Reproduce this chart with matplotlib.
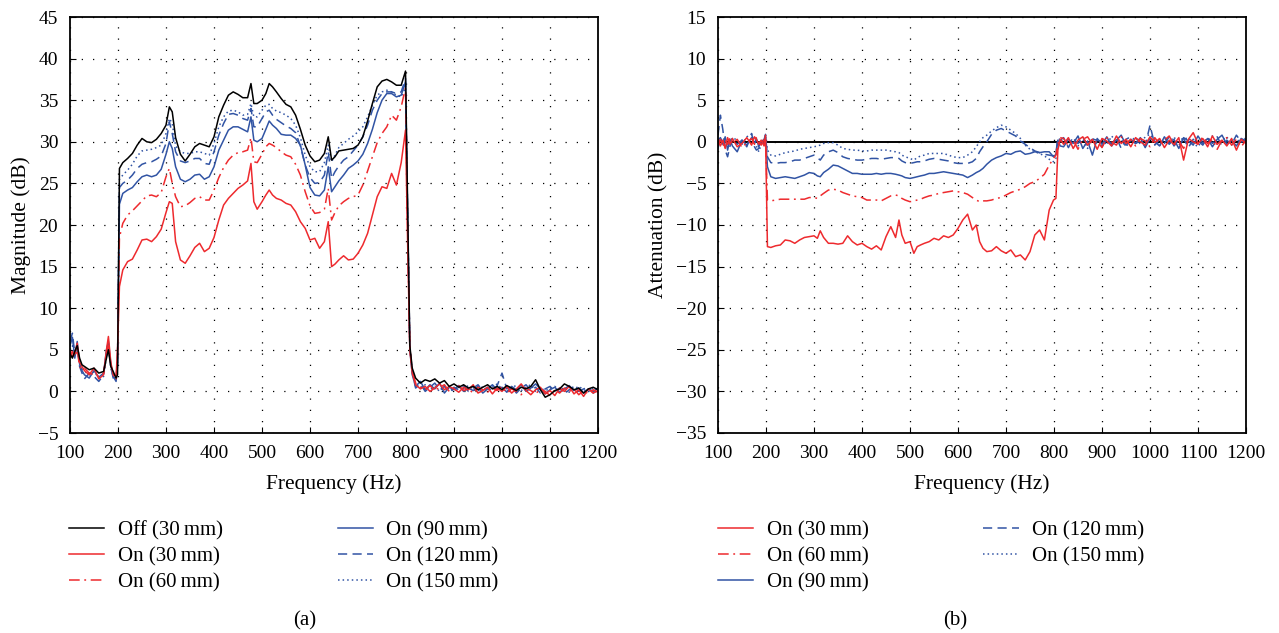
import matplotlib.pyplot as plt
from matplotlib.lines import Line2D

plt.rcParams['font.family'] = ['Liberation Serif', 'DejaVu Serif']
plt.rcParams['font.size'] = 15
plt.rcParams['axes.unicode_minus'] = True

RED = '#ee2a2e'
BLUE = '#3154a4'
BLACK = '#000000'

# frequency grid shared by every curve (Hz)
FREQ = [100, 105, 110, 115, 120, 125, 130, 140, 150, 160, 170, 176, 180, 185, 190, 196, 199,
        203, 210, 220, 230, 240, 250, 260, 270, 280, 290,
        300, 307, 313, 320, 330, 340, 350, 360, 370, 380,
        390, 400, 410, 420, 430, 440, 450, 460, 470, 477,
        483, 490, 500, 508, 515, 522, 530, 540, 550, 560,
        570, 580, 590, 600, 610, 620, 630, 638, 645, 652,
        660, 670, 680, 690, 700, 710, 720, 730, 740, 750,
        760, 770, 780, 790, 799,
        804, 808, 813,
        820, 830, 840, 850, 860, 870, 880, 890, 900, 910,
        920, 930, 940, 950, 960, 970, 980, 990, 1000, 1010,
        1020, 1030, 1040, 1050, 1060, 1070, 1080, 1090, 1100, 1110,
        1120, 1130, 1140, 1150, 1160, 1170, 1180, 1190, 1200]

# ---- panel (a): magnitude (dB) ----
OFF_30 = [4.5, 4.0, 4.8, 5.5, 4.0, 3.2, 3.0, 2.6, 2.8, 2.2, 2.4, 4.0, 5.0, 3.0, 2.4, 1.6, 2.0,
          26.8, 27.5, 28.0, 28.6, 29.6, 30.4, 30.0, 29.9, 30.3, 31.0,
          32.0, 34.2, 33.6, 30.5, 28.5, 27.7, 28.5, 29.4, 29.8, 29.6,
          29.4, 30.6, 33.0, 34.4, 35.6, 36.0, 35.7, 35.3, 35.3, 37.0,
          34.6, 34.6, 35.0, 35.8, 37.0, 36.6, 36.0, 35.2, 34.5, 34.2,
          33.2, 31.5, 29.6, 28.3, 27.6, 27.8, 28.6, 30.6, 27.8, 28.2,
          28.9, 29.0, 29.1, 29.2, 29.6, 30.6, 32.5, 34.6, 36.6, 37.3,
          37.5, 37.2, 36.8, 36.8, 38.5,
          20.0, 5.5, 2.8,
          1.6, 1.0, 1.4, 1.2, 1.5, 1.0, 1.3, 0.6, 0.9, 0.5,
          0.8, 0.4, 0.6, 0.2, 0.5, 0.8, 0.3, 0.6, 0.2, 0.7,
          0.4, 0.1, 0.5, 0.3, 0.6, 1.4, 0.2, -0.7, -0.4, 0.1,
          0.3, 0.9, 0.6, 0.2, 0.4, -0.2, 0.3, 0.5, 0.2]

ON_30 = [5.0, 4.2, 4.5, 5.8, 3.5, 3.0, 2.5, 2.0, 2.8, 1.5, 2.0, 5.0, 6.6, 3.5, 2.0, 1.8, 5.0,
         12.6, 14.6, 15.6, 15.9, 17.0, 18.2, 18.3, 18.0, 18.6, 19.5,
         21.5, 22.8, 22.6, 18.0, 15.8, 15.4, 16.3, 17.3, 17.8, 16.8,
         17.2, 18.5, 20.6, 22.4, 23.2, 23.8, 24.4, 24.8, 25.3, 27.4,
         22.8, 21.9, 22.8, 23.6, 24.2, 23.6, 23.2, 23.0, 22.6, 22.4,
         21.6, 20.4, 19.6, 18.2, 18.4, 17.2, 18.0, 20.4, 15.0, 15.3,
         15.8, 16.3, 15.8, 15.9, 16.6, 17.6, 19.0, 21.2, 23.4, 24.6,
         24.4, 26.2, 24.8, 27.5, 31.4,
         16.0, 5.0, 2.2,
         0.8, 0.3, 0.6, 0.0, 0.4, 0.9, 0.2, 0.6, 0.3, -0.1,
         0.5, 0.2, 0.8, -0.2, 0.1, 0.5, -0.3, 0.4, 0.0, 0.6,
         -0.2, 0.3, 0.9, 0.1, -0.4, 0.2, 0.5, -0.3, 0.1, -0.5,
         0.4, 0.0, 0.6, -0.3, 0.2, -0.6, 0.3, -0.2, 0.1]

ON_60 = [4.0, 4.8, 4.2, 5.0, 3.0, 2.6, 2.8, 2.2, 2.0, 1.8, 2.2, 4.5, 5.5, 3.2, 2.0, 1.4, 4.0,
         18.5, 20.2, 21.2, 21.7, 22.3, 22.9, 23.5, 23.6, 23.4, 23.9,
         25.8, 26.8, 25.0, 23.4, 22.2, 22.3, 22.7, 23.2, 23.4, 23.0,
         23.0, 24.2, 25.7, 26.9, 27.8, 28.4, 28.7, 28.8, 29.0, 30.5,
         27.6, 27.5, 28.5, 29.4, 29.8, 29.6, 29.3, 28.8, 28.4, 28.2,
         27.3, 26.0, 24.0, 22.3, 21.4, 21.5, 21.9, 24.4, 20.6, 21.5,
         22.3, 22.8, 23.2, 23.4, 23.6, 24.8, 26.5, 28.2, 29.9, 31.0,
         31.8, 33.2, 32.6, 34.2, 36.5,
         18.0, 5.2, 2.5,
         1.0, 0.5, 0.2, 0.7, 0.1, 0.5, 0.8, 0.0, 0.4, 0.7,
         0.1, 0.3, -0.2, 0.5, 0.2, -0.1, 0.4, 0.1, 0.6, -0.2,
         0.3, 0.0, -0.4, 0.4, 0.1, -0.3, 0.3, 0.0, -0.5, 0.2,
         -0.2, 0.4, 0.0, 0.3, -0.4, 0.1, -0.3, 0.2, -0.1]

ON_90 = [5.5, 6.5, 4.0, 6.0, 3.3, 2.5, 2.0, 1.6, 2.5, 1.7, 2.2, 5.0, 6.0, 3.3, 1.8, 1.2, 3.0,
         22.5, 23.8, 24.2, 24.5, 25.2, 25.8, 26.0, 25.8, 26.0, 26.7,
         28.5, 30.0, 29.2, 27.0, 25.5, 25.2, 25.5, 26.0, 26.1, 25.5,
         25.8, 27.0, 29.0, 30.2, 31.4, 31.8, 31.8, 31.5, 31.2, 33.0,
         30.2, 30.0, 30.4, 31.5, 32.5, 32.0, 31.6, 30.9, 30.8, 30.8,
         30.4, 29.6, 27.2, 24.5, 23.6, 23.5, 24.2, 27.0, 24.0, 24.6,
         25.3, 26.0, 26.8, 27.2, 27.7, 28.5, 29.8, 31.5, 33.5, 35.0,
         35.8, 35.8, 35.4, 35.6, 37.2,
         19.0, 5.0, 2.0,
         0.6, 1.2, 0.2, 0.8, 0.3, 1.0, -0.2, 0.5, 0.2, 0.7,
         0.0, 0.4, 0.1, 0.6, -0.2, 0.3, 0.8, 0.2, 0.5, -0.1,
         0.6, 0.2, 0.8, 0.0, 0.4, 0.9, 0.3, -0.3, 0.2, 0.5,
         -0.1, 0.3, 0.7, 0.1, 0.4, -0.2, 0.3, 0.0, 0.4]

ON_120 = [6.0, 7.0, 4.5, 5.5, 3.0, 2.2, 1.5, 2.2, 1.8, 1.2, 2.0, 4.6, 5.8, 3.0, 1.6, 1.4, 3.5,
          24.5, 25.0, 25.4, 26.0, 26.8, 27.3, 27.5, 27.6, 27.9, 28.3,
          29.8, 32.4, 31.0, 28.8, 27.7, 27.5, 27.7, 28.0, 28.0, 27.4,
          27.3, 28.8, 30.8, 32.2, 33.3, 33.4, 33.2, 32.8, 32.6, 34.0,
          31.8, 31.8, 32.8, 33.6, 33.8, 33.2, 32.7, 32.3, 31.9, 31.6,
          31.1, 29.5, 27.2, 25.7, 25.0, 25.1, 26.0, 28.8, 25.6, 26.4,
          27.1, 27.8, 28.2, 28.9, 29.6, 30.6, 32.0, 33.8, 35.0, 35.8,
          36.0, 36.0, 35.8, 36.0, 37.6,
          19.0, 5.3, 2.4,
          0.4, 0.9, 0.0, 0.5, 1.0, 0.2, 0.6, -0.1, 0.5, 0.2,
          0.7, 0.0, 0.4, 0.8, 0.1, 0.5, 0.0, 0.7, 2.2, 0.3,
          0.6, -0.2, 0.4, 0.8, 0.1, 0.5, -0.2, 0.3, 0.6, 0.0,
          0.4, -0.3, 0.2, 0.6, 0.0, 0.3, 0.5, -0.2, 0.2]

ON_150 = [5.0, 5.5, 4.2, 5.2, 3.4, 2.8, 2.4, 2.0, 2.4, 1.6, 1.8, 4.2, 5.2, 2.8, 1.8, 1.5, 3.5,
          25.5, 26.0, 26.6, 27.3, 28.3, 28.9, 29.0, 29.1, 29.3, 29.6,
          31.0, 32.8, 32.2, 29.5, 28.8, 28.6, 28.6, 28.8, 28.8, 28.6,
          28.4, 29.8, 31.8, 33.0, 33.7, 33.8, 33.6, 33.2, 33.3, 34.6,
          33.0, 33.0, 33.8, 34.4, 34.5, 34.0, 33.7, 33.5, 33.2, 32.8,
          32.0, 30.5, 28.4, 27.0, 26.4, 26.4, 27.5, 29.6, 27.6, 28.4,
          29.3, 29.8, 30.3, 30.7, 31.2, 31.8, 33.0, 34.4, 35.6, 36.0,
          36.2, 36.0, 35.6, 35.4, 36.5,
          19.0, 5.2, 2.6,
          0.9, 0.4, 0.8, 0.2, 0.6, 0.0, 0.7, 0.3, 0.0, 0.5,
          0.3, 0.7, 0.2, 0.0, 0.6, 0.1, 0.5, 0.9, 0.3, 0.0,
          0.5, 0.7, 0.1, 0.5, 0.8, 0.0, 0.4, 0.1, 0.3, 0.6,
          0.1, 0.5, -0.1, 0.3, 0.6, 0.2, 0.0, 0.4, 0.3]

# ---- panel (b): attenuation (dB) ----
ATT_30 = [0.3, -0.5, 0.2, -0.8, 0.5, -0.3, 0.4, -0.6, -0.2, 0.5, -0.4, 0.6, 0.3, -0.3, 0.2, -0.5, 0.8,
          -12.6, -12.7, -12.5, -12.4, -11.8, -11.9, -12.2, -11.8, -11.5, -11.4,
          -11.3, -11.6, -10.7, -11.5, -12.2, -12.2, -12.3, -12.2, -11.3, -12.0,
          -12.4, -12.2, -12.6, -12.9, -12.5, -13.0, -11.4, -10.2, -11.5, -9.4,
          -11.2, -12.2, -12.0, -13.4, -12.6, -12.4, -12.2, -12.0, -11.6, -11.8,
          -11.3, -11.5, -11.2, -10.4, -9.4, -8.7, -10.6, -10.0, -12.0, -12.8,
          -13.2, -13.1, -12.6, -13.1, -13.4, -13.0, -13.8, -13.6, -14.2, -13.2,
          -11.2, -10.6, -11.8, -8.2, -7.0,
          -6.8, -1.0, 0.3,
          -0.3, 0.5, -0.8, 0.2, 0.6, -0.4, 0.3, -0.9, 0.4, 0.1,
          -0.5, 0.7, -0.2, 0.3, -0.6, 0.5, 0.0, -0.4, 0.6, -0.1,
          0.4, -0.7, 0.2, -0.3, 0.5, -2.2, 0.3, 1.1, -0.2, 0.4,
          -0.6, 0.7, -0.3, 0.2, -0.5, 0.4, -1.0, 0.3, -0.2]

ATT_60 = [-0.4, 0.3, -0.6, 0.2, -0.3, 0.5, -0.2, 0.3, -0.7, -0.1, 0.4, -0.3, 0.5, 0.0, -0.4, 0.3, 0.5,
          -7.0, -7.1, -7.0, -6.9, -6.9, -6.9, -6.9, -6.9, -6.9, -6.7,
          -6.7, -6.8, -6.5, -6.2, -5.8, -5.7, -5.8, -6.1, -6.3, -6.5,
          -6.6, -6.7, -7.0, -7.0, -7.0, -7.1, -6.8, -6.5, -6.4, -6.5,
          -6.8, -7.0, -7.2, -7.1, -7.0, -6.9, -6.7, -6.5, -6.4, -6.2,
          -6.1, -6.0, -5.9, -6.0, -6.1, -6.3, -6.7, -7.0, -7.2, -7.1,
          -7.1, -7.0, -6.8, -6.7, -6.4, -6.1, -5.9, -5.7, -5.4, -5.0,
          -4.8, -4.4, -3.9, -2.8, -2.0,
          -1.6, -0.3, 0.5,
          0.4, -0.5, 0.2, -0.9, 0.3, 0.6, -0.3, 0.1, -0.7, 0.5,
          0.0, -0.4, 0.6, -0.2, 0.3, -0.5, 0.4, 0.1, -0.6, 0.5,
          -0.3, 0.2, 0.7, -0.4, 0.1, -0.8, 0.4, 0.0, -0.3, 0.6,
          -0.2, 0.3, -0.9, 0.2, 0.5, -0.4, 0.3, -0.6, 0.2]

ATT_90 = [-0.8, 0.5, -0.2, 0.6, -1.0, 0.3, -0.5, -1.2, 0.2, -0.4, 0.5, -0.2, 0.4, -0.6, 0.1, -0.3, 0.9,
          -3.0, -4.2, -4.4, -4.3, -4.2, -4.3, -4.4, -4.2, -4.0, -3.7,
          -3.8, -4.1, -4.2, -3.7, -3.3, -2.8, -2.9, -3.2, -3.5, -3.8,
          -3.8, -3.9, -3.9, -3.9, -3.8, -3.9, -3.8, -3.8, -3.9, -4.0,
          -4.1, -4.3, -4.4, -4.3, -4.2, -4.1, -4.0, -3.8, -3.8, -3.7,
          -3.6, -3.7, -3.8, -3.9, -4.0, -4.3, -4.0, -3.7, -3.5, -3.2,
          -2.7, -2.2, -1.9, -1.7, -1.4, -1.5, -1.2, -1.1, -1.5, -1.4,
          -1.2, -1.3, -1.2, -1.2, -1.8,
          -1.5, 0.2, -0.5,
          -0.6, 0.3, -0.2, 0.7, -0.8, 0.1, -1.6, 0.4, -0.3, 0.6,
          -0.5, 0.2, 0.8, -0.4, 0.3, -0.2, 0.5, -0.7, 0.4, 0.0,
          -0.5, 0.6, -0.3, 0.3, -0.8, 0.5, 0.1, -0.4, 0.7, -0.2,
          0.4, -0.6, 0.3, 0.8, -0.3, 0.2, -0.5, 0.4, 0.1]

ATT_120 = [0.8, 3.2, 1.5, -1.0, -1.8, -0.5, 0.4, -0.3, 0.2, -0.6, 1.0, -0.6, -1.0, -0.8, 0.0, 0.3, 0.8,
           -1.8, -2.5, -2.6, -2.5, -2.5, -2.4, -2.2, -2.2, -2.0, -1.8,
           -1.6, -1.9, -2.2, -1.6, -1.2, -1.0, -1.3, -1.8, -2.0, -2.1,
           -2.2, -2.2, -2.1, -2.0, -2.0, -2.1, -2.0, -1.9, -1.9, -2.0,
           -2.3, -2.5, -2.6, -2.5, -2.4, -2.4, -2.3, -2.1, -2.0, -2.1,
           -2.2, -2.3, -2.5, -2.6, -2.6, -2.6, -2.4, -2.0, -1.2, -0.6,
           0.0, 0.9, 1.4, 1.6, 1.3, 1.0, 0.7, 0.1, -0.3, -0.7,
           -1.1, -1.3, -1.5, -1.6, -1.7,
           -1.4, 0.5, 0.2,
           0.5, -0.7, 0.4, -0.2, 0.6, -0.5, 0.3, 0.2, -0.6, 0.4,
           -0.3, 0.5, -0.8, 0.3, 0.6, -0.2, 0.1, -0.5, 2.0, -0.4,
           0.3, -0.2, 0.6, -0.5, 0.2, 0.4, -0.7, 0.3, 0.1, -0.4,
           0.5, -0.2, 0.6, -0.5, 0.2, -0.3, 0.8, 0.0, 0.3]

ATT_150 = [-0.2, 0.6, -0.5, 0.3, 0.0, -0.4, 0.5, 0.2, -0.3, 0.6, 0.9, 0.2, -0.5, -1.2, -0.3, 0.2, 0.6,
           -1.0, -1.6, -1.7, -1.5, -1.3, -1.2, -1.1, -0.9, -0.8, -0.7,
           -0.6, -0.5, -0.4, -0.2, -0.1, -0.1, -0.4, -0.8, -0.9, -1.0,
           -1.0, -1.1, -1.1, -1.0, -1.0, -1.0, -1.0, -1.1, -1.2, -1.3,
           -1.6, -1.8, -2.0, -2.2, -1.9, -1.7, -1.6, -1.4, -1.4, -1.4,
           -1.4, -1.6, -1.8, -1.9, -1.9, -1.6, -1.2, -0.6, 0.0, 0.5,
           0.8, 1.3, 1.7, 2.0, 1.8, 1.4, 1.0, 0.4, -0.4, -0.9,
           -1.2, -1.4, -1.7, -2.1, -2.4,
           -2.0, -0.6, 0.4,
           -0.2, 0.4, 0.1, -0.5, 0.3, -0.8, 0.5, -0.2, 0.4, -0.4,
           0.7, 0.0, 0.3, -0.6, 0.2, 0.5, -0.3, 0.6, 0.9, 0.2,
           -0.5, 0.4, -0.1, 0.6, -0.4, 0.3, 0.5, -0.2, -0.6, 0.3,
           0.1, 0.7, -0.3, 0.2, 0.6, -0.4, 0.3, -0.1, 0.5]

LABELS_A = ['Off (30\u2009mm)', 'On (30\u2009mm)', 'On (60\u2009mm)',
            'On (90\u2009mm)', 'On (120\u2009mm)', 'On (150\u2009mm)']
LABELS_B = ['On (30\u2009mm)', 'On (60\u2009mm)', 'On (90\u2009mm)',
            'On (120\u2009mm)', 'On (150\u2009mm)']

STYLE_SOLID = '-'
STYLE_DASHDOT = (0, (7, 3, 1.2, 3))
STYLE_DASHED = (0, (6, 3.5))
STYLE_DOTTED = (0, (1, 2))


def style_axes(ax, ylim, ylabel):
    ax.set_xlim(100, 1200)
    ax.set_ylim(*ylim)
    ax.set_xticks(range(100, 1201, 100))
    ax.set_yticks(range(ylim[0], ylim[1] + 1, 5))
    ax.grid(True, color='black', linestyle=(0, (1, 8)), linewidth=0.9)
    ax.tick_params(direction='in', length=4, pad=8.5, labelsize=14)
    for sp in ax.spines.values():
        sp.set_linewidth(1.3)
    ax.set_xlabel('Frequency (Hz)', labelpad=9, fontsize=15.5)
    ax.set_ylabel(ylabel, labelpad=5, fontsize=15.5)


fig = plt.figure(figsize=(12.79, 6.33), dpi=100)
ax_a = fig.add_axes([70 / 1279, 1 - 433 / 633, 528 / 1279, 416 / 633])
ax_b = fig.add_axes([718 / 1279, 1 - 433 / 633, 528 / 1279, 416 / 633])

lw = 1.1
series_a = [
    (ON_150, BLUE, STYLE_DOTTED),
    (ON_120, BLUE, STYLE_DASHED),
    (ON_90, BLUE, STYLE_SOLID),
    (ON_60, RED, STYLE_DASHDOT),
    (ON_30, RED, STYLE_SOLID),
    (OFF_30, BLACK, STYLE_SOLID),
]
for vals, col, ls in series_a:
    ax_a.plot(FREQ, vals, color=col, linestyle=ls, linewidth=lw)
style_axes(ax_a, (-5, 45), 'Magnitude (dB)')

ax_b.axhline(0, color='black', linewidth=1.4, zorder=1)
series_b = [
    (ATT_150, BLUE, STYLE_DOTTED),
    (ATT_120, BLUE, STYLE_DASHED),
    (ATT_90, BLUE, STYLE_SOLID),
    (ATT_60, RED, STYLE_DASHDOT),
    (ATT_30, RED, STYLE_SOLID),
]
for vals, col, ls in series_b:
    ax_b.plot(FREQ, vals, color=col, linestyle=ls, linewidth=lw)
style_axes(ax_b, (-35, 15), 'Attenuation (dB)')

# legends below each panel
handles_a = [Line2D([], [], color=BLACK, ls=STYLE_SOLID, lw=lw),
             Line2D([], [], color=RED, ls=STYLE_SOLID, lw=lw),
             Line2D([], [], color=RED, ls=STYLE_DASHDOT, lw=lw),
             Line2D([], [], color=BLUE, ls=STYLE_SOLID, lw=lw),
             Line2D([], [], color=BLUE, ls=STYLE_DASHED, lw=lw),
             Line2D([], [], color=BLUE, ls=STYLE_DOTTED, lw=lw)]
handles_b = handles_a[1:]

leg_kw = dict(loc='upper left', ncol=2, frameon=False, fontsize=15,
              handlelength=1.7, handletextpad=0.65, columnspacing=5.5,
              labelspacing=0.3, borderpad=0, borderaxespad=0)
fig.legend(handles_a, LABELS_A, bbox_to_anchor=(69 / 1279, 1 - 521 / 633), **leg_kw)
fig.legend(handles_b, LABELS_B, bbox_to_anchor=(718 / 1279, 1 - 521 / 633), **leg_kw)

fig.text(305 / 1279, 1 - 621 / 633, '(a)', ha='center', va='center', fontsize=15)
fig.text(955 / 1279, 1 - 621 / 633, '(b)', ha='center', va='center', fontsize=15)

fig.savefig('out.png', dpi=100)
